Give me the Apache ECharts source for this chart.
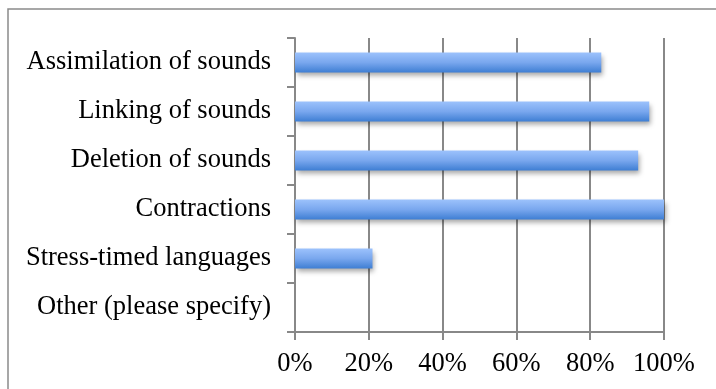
<!DOCTYPE html>
<html>
<head>
<meta charset="utf-8">
<script src="https://cdn.jsdelivr.net/npm/echarts@6/dist/echarts.min.js"></script>
<style>
  html, body { margin: 0; padding: 0; background: #fff; }
  #chart { width: 716px; height: 389px; }
</style>
</head>
<body>
<div id="chart"></div>
<script>
// Survey topics, listed top to bottom
const categories = [
  'Assimilation of sounds',
  'Linking of sounds',
  'Deletion of sounds',
  'Contractions',
  'Stress-timed languages',
  'Other (please specify)'
];
// Share of respondents (%)
const percentages = [83, 96, 93, 100, 21, 0];
const xTicks = [0, 20, 40, 60, 80, 100];

const chart = echarts.init(document.getElementById('chart'));
const gridColor = '#888888';
const serif = '"Liberation Serif", "Times New Roman", serif';

chart.setOption({
  animation: false,
  graphic: [{
    type: 'rect',
    shape: { x: 8, y: 9, width: 740, height: 420 },
    style: { fill: 'none', stroke: '#8a8a8a', lineWidth: 1.5 },
    silent: true
  }],
  grid: { left: 295, top: 38, right: 52, bottom: 57, containLabel: false },
  xAxis: {
    type: 'value',
    min: xTicks[0],
    max: xTicks[xTicks.length - 1],
    interval: xTicks[1] - xTicks[0],
    axisLine: { show: true, lineStyle: { color: gridColor, width: 2 } },
    axisTick: { show: true, length: 8, lineStyle: { color: gridColor, width: 2 } },
    splitLine: { show: true, lineStyle: { color: gridColor, width: 2 } },
    axisLabel: {
      formatter: '{value}%',
      fontFamily: serif,
      fontSize: 26.5,
      color: '#000',
      margin: 19
    }
  },
  yAxis: {
    type: 'category',
    data: categories,
    inverse: true,
    axisLine: { show: true, lineStyle: { color: gridColor, width: 2 } },
    axisTick: { show: true, length: 8, alignWithLabel: false, lineStyle: { color: gridColor, width: 2 } },
    splitLine: { show: false },
    axisLabel: {
      fontFamily: serif,
      fontSize: 26.5,
      color: '#000',
      margin: 24,
      padding: [4, 0, 0, 0]
    }
  },
  series: [{
    type: 'bar',
    data: percentages,
    barWidth: 20,
    itemStyle: {
      color: {
        type: 'linear', x: 0, y: 0, x2: 0, y2: 1,
        colorStops: [
          { offset: 0, color: '#9cc2fc' },
          { offset: 0.5, color: '#79a7ee' },
          { offset: 1, color: '#3e7ed3' }
        ]
      },
      shadowColor: 'rgba(0,0,0,0.35)',
      shadowBlur: 5,
      shadowOffsetX: 2,
      shadowOffsetY: 3
    }
  }]
});
</script>
</body>
</html>
